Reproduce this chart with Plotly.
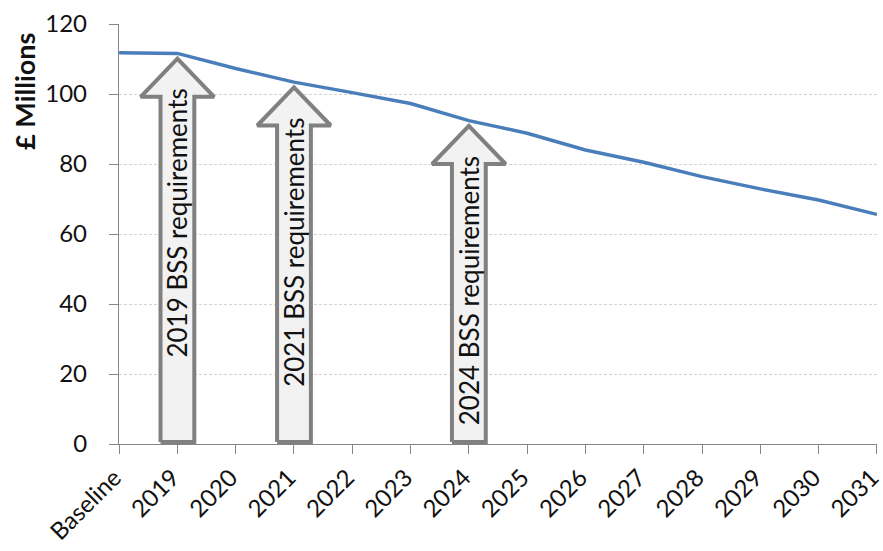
import plotly.graph_objects as go

# Cost trajectory by year
categories = ["Baseline", "2019", "2020", "2021", "2022", "2023", "2024",
              "2025", "2026", "2027", "2028", "2029", "2030", "2031"]
cost_millions = [111.8, 111.6, 107.3, 103.4, 100.4, 97.3, 92.4,
                 88.8, 84.0, 80.5, 76.4, 72.9, 69.7, 65.6]

# Years in which new BSS requirements come in
requirement_years = ["2019", "2021", "2024"]
requirement_labels = ["2019 BSS requirements", "2021 BSS requirements",
                      "2024 BSS requirements"]

y_ticks = [0, 20, 40, 60, 80, 100, 120]

FONT = "Lato, Calibri, Liberation Sans, sans-serif"
x_idx = list(range(len(categories)))

fig = go.Figure()

fig.add_trace(go.Scatter(
    x=x_idx, y=cost_millions, mode="lines",
    line=dict(color="#4A7EBB", width=3.5),
    hoverinfo="skip", showlegend=False,
))

# Block arrows: shaft rises from the axis, head stops just under the curve
shaft_half = 0.29
head_half = 0.63
head_len = 10.9
tip_gap = 1.5
base_y = 0.6

annotations = []
for year, label in zip(requirement_years, requirement_labels):
    i = categories.index(year)
    tip = cost_millions[i] - tip_gap
    neck = tip - head_len
    xs = [i - shaft_half, i - shaft_half, i - head_half, i, i + head_half,
          i + shaft_half, i + shaft_half, i - shaft_half]
    ys = [base_y, neck, neck, tip, neck, neck, base_y, base_y]
    fig.add_trace(go.Scatter(
        x=xs, y=ys, mode="lines", fill="toself",
        fillcolor="#F2F2F2", line=dict(color="#808080", width=4),
        hoverinfo="skip", showlegend=False,
    ))
    annotations.append(dict(
        x=i, y=neck + 2.9, xref="x", yref="y",
        text=label, textangle=-90, showarrow=False,
        xanchor="center", yanchor="top",
        font=dict(family=FONT, size=26, color="#111111"),
    ))

annotations.append(dict(
    x=-0.124, y=100.6, xref="paper", yref="y",
    text="<b>£ Millions</b>", textangle=-90, showarrow=False,
    xanchor="center", yanchor="middle",
    font=dict(family=FONT, size=27, color="#111111"),
))

fig.update_layout(
    width=883, height=551,
    margin=dict(l=119, r=6, t=24, b=107, pad=0),
    paper_bgcolor="white", plot_bgcolor="white",
    annotations=annotations,
    showlegend=False,
)

fig.update_xaxes(
    range=[-0.002, len(categories) - 1 + 0.002],
    tickmode="array", tickvals=x_idx, ticktext=categories,
    tickangle=-45, automargin=False, ticklabeloverflow="allow",
    ticklabelshift=-5,
    ticks="outside", ticklen=9, tickcolor="#868686", tickwidth=1.3,
    showline=True, linecolor="#868686", linewidth=1.3,
    showgrid=False, zeroline=False,
    tickfont=dict(family=FONT, size=24, color="#111111"),
)

fig.update_yaxes(
    range=[0, 120],
    tickmode="array", tickvals=y_ticks, automargin=False,
    ticks="outside", ticklen=9, tickcolor="#868686", tickwidth=1.3,
    ticklabelstandoff=17,
    showline=True, linecolor="#868686", linewidth=1.3,
    showgrid=True, gridcolor="#D4D4D4", gridwidth=1, griddash="3px,2px",
    zeroline=False,
    tickfont=dict(family=FONT, size=24, color="#111111"),
)

fig.write_html("out.html")
